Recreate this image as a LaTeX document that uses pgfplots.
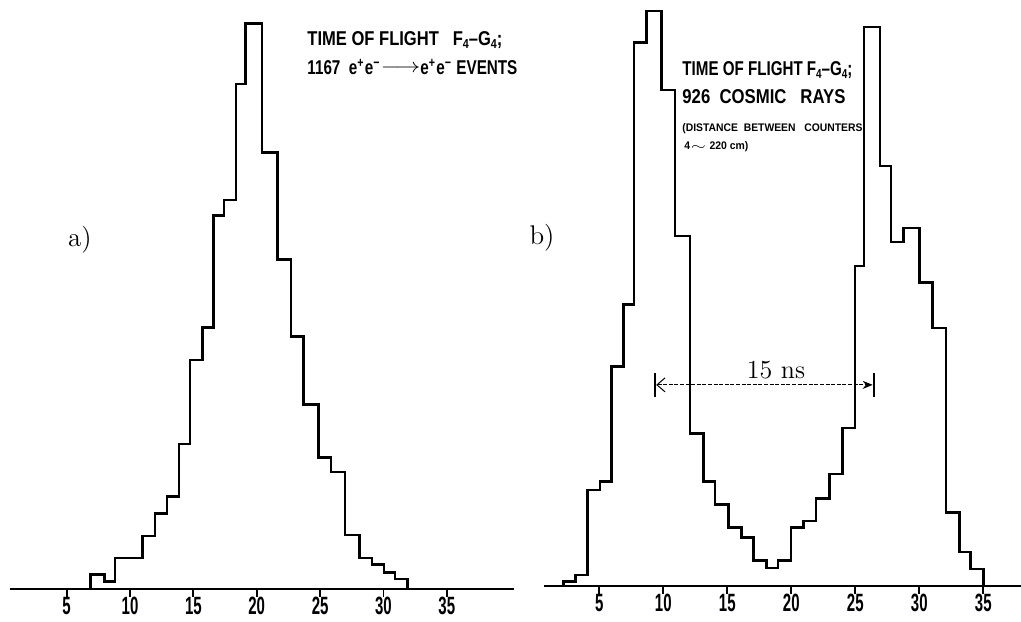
\documentclass[border=0pt]{standalone}
\usepackage{fontspec}
\usepackage{graphicx}
\usepackage{pgfplots}
\pgfplotsset{compat=1.18}
\usetikzlibrary{arrows.meta}
\newfontfamily\lettering[FakeStretch=0.62]{Liberation Sans}
\newfontfamily\tickfont[FakeStretch=0.6]{Liberation Sans}
\newcommand{\sub}[1]{\raisebox{-0.35ex}{\fontsize{6.5}{6.5}\selectfont #1}}
\newcommand{\fitw}[2]{\resizebox{#1}{\height}{#2}}
\pgfplotstableread{
x y
6.89 0
6.89 37
7.97 19
8.82 79
11.0 135
11.97 192
12.9 235
13.87 369
14.74 582
15.71 664
16.58 949
17.42 989
18.37 1284
19.1 1437
20.4 1110
21.65 837
22.7 642
23.7 469
24.87 334
25.87 297
26.97 137
28.1 79
29.08 62
30.05 42
30.92 25
31.9 0
}\tofa
\pgfplotstableread{
x y
2.19 0
2.19 11
3.15 28
4.09 243
5.05 265
5.96 555
6.88 713
7.71 1375
8.70 1455
9.87 1255
10.91 886
12.08 386
13.13 265
14.04 206
15.08 148
16.12 123
17.03 65
18.07 45
18.98 65
19.97 148
20.94 165
21.93 221
22.97 283
24.01 400
24.97 810
25.70 1415
26.93 1063
27.79 871
28.75 906
30.0 768
31.04 653
32.08 186
33.13 86
34.01 43
35.0 0
}\tofb
\pgfplotsset{hist/.style={
  scale only axis, axis x line=bottom, axis y line=none,
  x axis line style={-, line width=1pt},
  ymin=0, xtick={5,10,...,35}, tick align=outside,
  major tick length=4pt, xtick style={line width=0.9pt, black},
  xticklabel style={font=\tickfont\bfseries\fontsize{12.5}{12.5}\selectfont, inner sep=0pt, anchor=north},
  /pgf/number format/assume math mode=true, clip=false}}
\begin{document}
\begin{tikzpicture}[x=1pt,y=1pt]
\path[use as bounding box] (0,0) rectangle (510.5,310.5);
\begin{axis}[hist, anchor=south west, at={(5pt,16pt)}, width=252pt, height=294.5pt,
  xmin=0.53, xmax=40.3, ymax=1497]
\addplot[const plot, black, line width=1.25pt, mark=none] table[x=x,y=y] {\tofa};
\end{axis}
\begin{axis}[hist, anchor=south west, at={(272pt,17.5pt)}, width=238.5pt, height=293pt,
  xmin=0.68, xmax=37.95, ymax=1483]
\addplot[const plot, black, line width=1.25pt, mark=none] table[x=x,y=y] {\tofb};
\draw[line width=0.5pt, dash pattern=on 2pt off 0.8pt, {Straight Barb[length=4pt,width=7pt]}-{Stealth[length=5pt,width=4pt]}] (axis cs:9.45,509) -- (axis cs:26.36,509);
\draw[line width=1pt] (axis cs:9.35,478) -- (axis cs:9.35,539);
\draw[line width=1pt] (axis cs:26.46,478) -- (axis cs:26.46,539);
\end{axis}
% annotations
\begin{scope}[every node/.style={inner sep=0pt}]
\node[anchor=west, font=\lettering\bfseries\fontsize{10}{10}\selectfont] at (153.5,290.5) {\fitw{97.5pt}{TIME\ OF\ FLIGHT\ \ \ F\sub{4}\char"2013 G\sub{4};}};
\node[anchor=west, font=\lettering\bfseries\fontsize{10}{10}\selectfont] at (153.5,277) {\fitw{105pt}{1167\ \ e\textsuperscript{+}e\textsuperscript{\char"2212}\raisebox{0.2ex}{$\longrightarrow$}e\textsuperscript{+}e\textsuperscript{\char"2212}\,EVENTS}};
\node[anchor=west, font=\lettering\bfseries\fontsize{10}{10}\selectfont] at (341,275.5) {\fitw{85pt}{TIME OF FLIGHT F\sub{4}\char"2013 G\sub{4};}};
\node[anchor=west, font=\lettering\bfseries\fontsize{10}{10}\selectfont] at (341,262) {\fitw{81.5pt}{926\ \ COSMIC\ \ \ RAYS}};
\node[anchor=west, font=\lettering\bfseries\fontsize{5.5}{5.5}\selectfont] at (341,246) {\fitw{90pt}{(DISTANCE\ \ BETWEEN\ \ \ COUNTERS}};
\node[anchor=west, font=\lettering\bfseries\fontsize{5.5}{5.5}\selectfont] at (342,237) {\fitw{32pt}{4$\sim$\ 220 cm)}};
\node[font=\fontsize{13.5}{13.5}\selectfont] at (40,190.5) {a)};
\node[font=\fontsize{13.5}{13.5}\selectfont] at (271,191.5) {b)};
\node[font=\fontsize{13}{13}\selectfont] at (388,125.5) {15 ns};
\end{scope}
\end{tikzpicture}
\end{document}
